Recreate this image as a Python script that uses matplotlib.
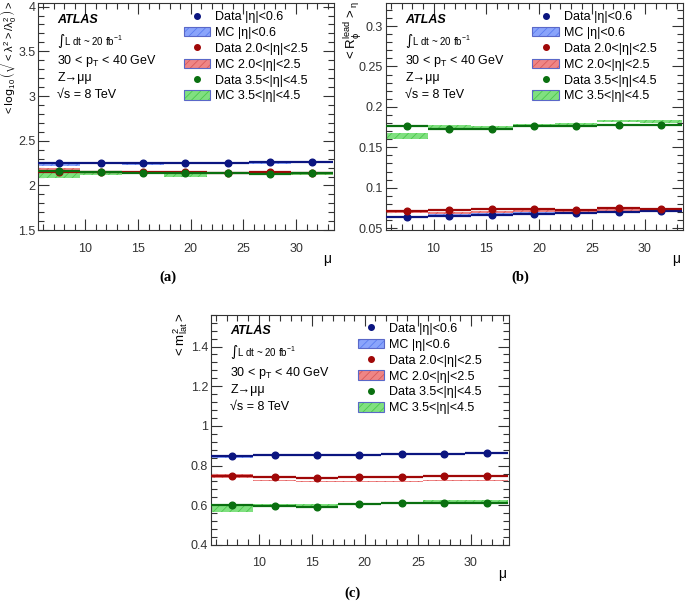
import numpy as np
import matplotlib
matplotlib.use("Agg")
from matplotlib import pyplot as plt
from matplotlib.patches import Patch
from matplotlib.lines import Line2D
from matplotlib.ticker import MultipleLocator, FormatStrFormatter

plt.rcParams["font.family"] = ["Liberation Sans", "DejaVu Sans"]
plt.rcParams["mathtext.default"] = "regular"
plt.rcParams["hatch.linewidth"] = 0.6

#%% data
mu = [7.5, 11.5, 15.5, 19.5, 23.5, 27.5, 31.5]
bin_width = 4

# (a) <log10(sqrt(<lambda^2>/lambda0^2))>
a_data_central = [2.247, 2.247, 2.250, 2.246, 2.255, 2.257, 2.265]
a_mc_central = [2.232, 2.245, 2.238, 2.245, 2.250, 2.252, 2.255]
a_mc_central_err = [0.010, 0.008, 0.008, 0.008, 0.008, 0.008, 0.008]
a_data_mid = [2.150, 2.150, 2.147, 2.150, 2.143, 2.155, 2.142]
a_mc_mid = [2.178, 2.148, 2.145, 2.155, 2.145, 2.152, 2.145]
a_mc_mid_err = [0.018, 0.010, 0.008, 0.010, 0.008, 0.010, 0.008]
a_data_fwd = [2.167, 2.152, 2.144, 2.140, 2.140, 2.130, 2.140]
a_mc_fwd = [2.120, 2.130, 2.140, 2.118, 2.133, 2.135, 2.130]
a_mc_fwd_err = [0.035, 0.015, 0.010, 0.018, 0.010, 0.010, 0.010]

# (b) <R^lead>
b_data_central = [0.0640, 0.0650, 0.0660, 0.0670, 0.0685, 0.0700, 0.0710]
b_mc_central = [0.0635, 0.0665, 0.0670, 0.0685, 0.0690, 0.0705, 0.0720]
b_mc_central_err = [0.0015, 0.0012, 0.0012, 0.0012, 0.0012, 0.0012, 0.0012]
b_data_mid = [0.0716, 0.0725, 0.0733, 0.0733, 0.0725, 0.0745, 0.0740]
b_mc_mid = [0.0707, 0.0690, 0.0700, 0.0710, 0.0710, 0.0725, 0.0710]
b_mc_mid_err = [0.0020, 0.0015, 0.0015, 0.0015, 0.0015, 0.0015, 0.0015]
b_data_fwd = [0.1760, 0.1730, 0.1730, 0.1760, 0.1760, 0.1775, 0.1775]
b_mc_fwd = [0.1640, 0.1760, 0.1750, 0.1770, 0.1790, 0.1825, 0.1820]
b_mc_fwd_err = [0.0040, 0.0020, 0.0018, 0.0015, 0.0015, 0.0015, 0.0015]

# (c) <m^2_lat>
c_data_central = [0.850, 0.852, 0.854, 0.854, 0.857, 0.858, 0.862]
c_mc_central = [0.845, 0.853, 0.856, 0.857, 0.860, 0.862, 0.866]
c_mc_central_err = [0.006, 0.004, 0.004, 0.004, 0.004, 0.004, 0.004]
c_data_mid = [0.746, 0.741, 0.740, 0.743, 0.741, 0.748, 0.746]
c_mc_mid = [0.750, 0.723, 0.720, 0.721, 0.720, 0.724, 0.724]
c_mc_mid_err = [0.010, 0.003, 0.003, 0.003, 0.003, 0.003, 0.003]
c_data_fwd = [0.604, 0.596, 0.593, 0.607, 0.610, 0.610, 0.613]
c_mc_fwd = [0.582, 0.604, 0.602, 0.608, 0.614, 0.620, 0.624]
c_mc_fwd_err = [0.018, 0.005, 0.005, 0.005, 0.005, 0.005, 0.005]

labels_data = ["Data |η|<0.6", "Data 2.0<|η|<2.5", "Data 3.5<|η|<4.5"]
labels_mc = ["MC |η|<0.6", "MC 2.0<|η|<2.5", "MC 3.5<|η|<4.5"]

data_colors = ["#0b1580", "#a00808", "#0a7010"]
mc_faces = ["#8aa4fb", "#ef8585", "#80e080"]
mc_hatch = ["#5b7df0", "#d85a5a", "#4cc84c"]

#%%


def draw_panel(ax, datas, mcs, errs, ylim, major, minor, ylabel, ylab_x, ylab_size):
    mu_arr = np.array(mu)
    for mc, err, face, hc in zip(mcs, errs, mc_faces, mc_hatch):
        mc = np.array(mc)
        err = np.array(err)
        ax.bar(mu_arr, 2 * err, bottom=mc - err, width=bin_width, color=face,
               edgecolor=hc, hatch="////", linewidth=0, zorder=2)
    for d, col in zip(datas, data_colors):
        ax.errorbar(mu_arr, d, xerr=bin_width / 2, fmt="o", ms=4.8, color=col,
                    elinewidth=1.6, capsize=0, zorder=3)

    ax.set_xlim(5.5, 33.6)
    ax.set_ylim(*ylim)
    ax.xaxis.set_major_locator(MultipleLocator(5))
    ax.xaxis.set_minor_locator(MultipleLocator(1))
    ax.yaxis.set_major_locator(MultipleLocator(major))
    ax.yaxis.set_minor_locator(MultipleLocator(minor))
    ax.yaxis.set_major_formatter(FormatStrFormatter("%g"))
    ax.tick_params(which="both", direction="in", top=True, right=True,
                   width=0.8, colors="#333333", labelsize=9)
    ax.tick_params(which="major", length=8)
    ax.tick_params(which="minor", length=4)
    ax.tick_params(axis="x", pad=9)
    ax.tick_params(axis="y", pad=2)
    for s in ax.spines.values():
        s.set_linewidth(0.8)
        s.set_color("#333333")

    ax.set_ylabel(ylabel, loc="top", fontsize=ylab_size)
    ax.yaxis.set_label_coords(ylab_x, 1.01)
    ax.set_xlabel("μ", loc="right", fontsize=10)
    ax.xaxis.set_label_coords(0.99, -0.095)

    handles, labels = [], []
    for i in range(3):
        handles.append(Line2D([], [], marker="o", ls="none", color=data_colors[i], ms=4))
        labels.append(labels_data[i])
        handles.append((Patch(facecolor=mc_faces[i], edgecolor=mc_hatch[i], hatch="////", lw=0),
                        Patch(fill=False, edgecolor="#5a68c8", lw=0.8)))
        labels.append(labels_mc[i])
    ax.legend(handles, labels, loc="upper left", bbox_to_anchor=(0.493, 0.965),
              frameon=False, fontsize=9, borderpad=0, borderaxespad=0,
              handlelength=2.1, handleheight=0.8, handletextpad=0.4,
              labelspacing=0.3)

    def put(txt, dy, **kw):
        ax.annotate(txt, xy=(0, 1), xycoords="axes fraction", xytext=(14, dy),
                    textcoords="offset points", va="center", ha="left", **kw)

    put("ATLAS", -12, fontsize=9, fontweight="bold", fontstyle="italic")
    put(r"$\int$L dt ~ 20 fb$^{-1}$", -27, fontsize=7)
    put(r"30 < p$_{T}$ < 40 GeV", -42, fontsize=9)
    put("Z→μμ", -54, fontsize=9)
    put("√s = 8 TeV", -66, fontsize=9)


fig = plt.figure(figsize=(6.85, 6.01), dpi=100)
ax_a = fig.add_axes([0.0555, 0.617, 0.432, 0.378])
ax_b = fig.add_axes([0.5635, 0.617, 0.4336, 0.378])
ax_c = fig.add_axes([0.308, 0.0932, 0.435, 0.383])

draw_panel(ax_a, [a_data_central, a_data_mid, a_data_fwd],
           [a_mc_central, a_mc_mid, a_mc_fwd],
           [a_mc_central_err, a_mc_mid_err, a_mc_fwd_err],
           (1.5, 4.04), 0.5, 0.1,
           r"${<}\log_{10}\left(\sqrt{{<}\lambda^{2}{>}/\lambda_{0}^{2}}\right){>}$", -0.064, 8)
draw_panel(ax_b, [b_data_central, b_data_mid, b_data_fwd],
           [b_mc_central, b_mc_mid, b_mc_fwd],
           [b_mc_central_err, b_mc_mid_err, b_mc_fwd_err],
           (0.0475, 0.3285), 0.05, 0.01,
           r"${<}R_{\phi}^{lead}{>}_{\eta}$", -0.075, 9.5)
draw_panel(ax_c, [c_data_central, c_data_mid, c_data_fwd],
           [c_mc_central, c_mc_mid, c_mc_fwd],
           [c_mc_central_err, c_mc_mid_err, c_mc_fwd_err],
           (0.4, 1.56), 0.2, 0.04,
           r"${<}m_{lat}^{2}{>}$", -0.072, 9.5)

cap = dict(family=["Liberation Serif", "DejaVu Serif"], fontweight="bold",
           fontsize=10.5, ha="center", va="center")
fig.text(168 / 685, 1 - 277 / 601, "(a)", **cap)
fig.text(520 / 685, 1 - 277 / 601, "(b)", **cap)
fig.text(353 / 685, 1 - 593 / 601, "(c)", **cap)

fig.savefig("out.png", dpi=100)
